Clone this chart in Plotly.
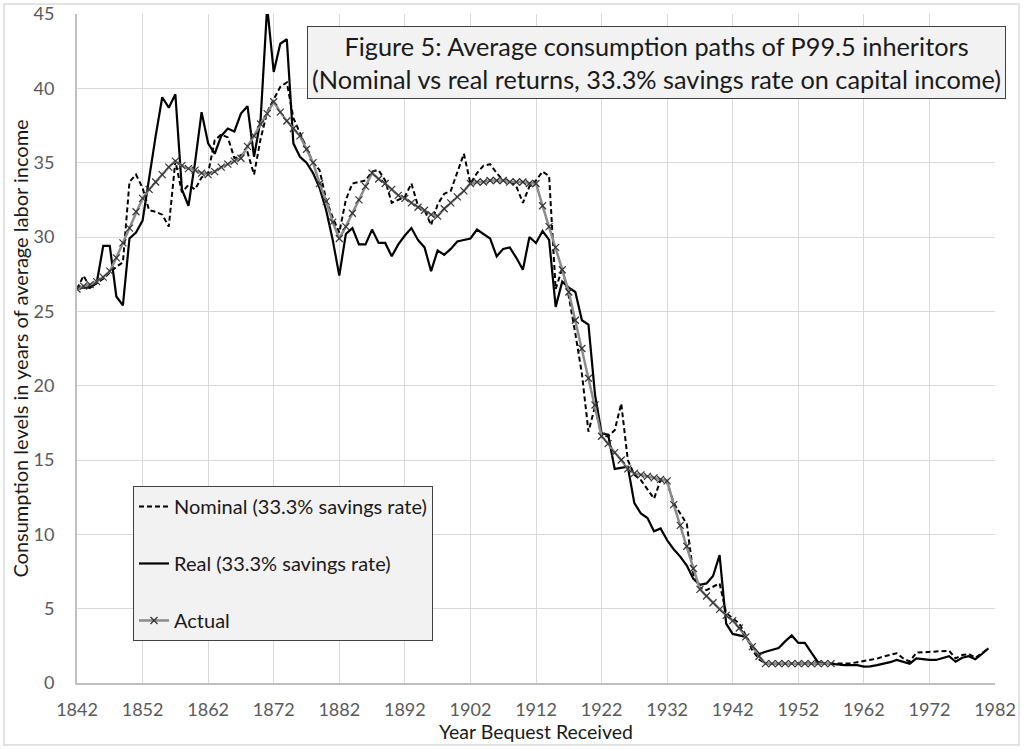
import plotly.graph_objects as go

years = list(range(1842, 1982))

nominal = [
    26.5, 27.4, 26.6, 26.9, 27.2, 27.6, 28.0, 28.3, 33.7, 34.2,   # 1842-1851
    33.3, 31.8, 31.7, 31.5, 30.7, 35.1, 33.0, 33.5, 33.2, 34.0,   # 1852-1861
    34.3, 36.5, 36.9, 36.7, 35.3, 35.5, 35.7, 34.2, 36.6, 38.4,   # 1862-1871
    39.3, 40.1, 40.4, 38.0, 37.0, 36.0, 35.0, 34.5, 32.5, 31.3,   # 1872-1881
    30.3, 32.5, 33.6, 33.7, 33.8, 34.4, 34.5, 33.8, 32.3, 32.5,   # 1882-1891
    32.7, 33.6, 32.1, 31.8, 30.8, 32.2, 32.9, 33.1, 34.3, 35.6,   # 1892-1901
    33.6, 34.3, 34.8, 34.9, 34.3, 33.8, 33.8, 33.4, 32.3, 33.4,   # 1902-1911
    33.8, 34.4, 34.1, 26.5, 27.9, 26.0, 23.5, 20.8, 16.9, 18.6,   # 1912-1921
    16.6, 16.6, 17.0, 18.8, 15.0, 14.0, 13.65, 13.0, 12.4, 13.65, # 1922-1931
    13.5, 12.1, 11.4, 10.7, 7.3, 6.4, 6.25, 6.5, 6.7, 4.7,        # 1932-1941
    4.35, 4.0, 3.2, 2.2, 1.6, 1.3, 1.3, 1.3, 1.3, 1.3,            # 1942-1951
    1.3, 1.3, 1.3, 1.3, 1.3, 1.3, 1.28, 1.3, 1.32, 1.4,           # 1952-1961
    1.48, 1.56, 1.64, 1.78, 1.9, 2.0, 1.66, 1.45, 2.04, 2.06,     # 1962-1971
    2.08, 2.1, 2.15, 2.17, 1.66, 1.88, 1.95, 1.7, 2.0, 2.33,      # 1972-1981
]

real = [
    26.5, 26.6, 26.6, 26.9, 29.4, 29.4, 26.0, 25.4, 29.9, 30.3,   # 1842-1851
    31.1, 34.0, 36.8, 39.4, 38.7, 39.6, 33.2, 32.1, 35.0, 38.4,   # 1852-1861
    36.3, 35.6, 36.8, 37.3, 37.1, 38.3, 38.8, 35.4, 37.9, 45.5,   # 1862-1871
    41.1, 43.0, 43.3, 36.3, 35.4, 35.0, 34.3, 33.3, 31.8, 29.8,   # 1872-1881
    27.4, 30.2, 30.6, 29.5, 29.5, 30.5, 29.6, 29.6, 28.7, 29.5,   # 1882-1891
    30.1, 30.6, 29.8, 29.3, 27.7, 29.1, 28.8, 29.2, 29.7, 29.8,   # 1892-1901
    29.9, 30.5, 30.2, 29.9, 28.7, 29.2, 29.3, 28.6, 27.8, 30.0,   # 1902-1911
    29.6, 30.4, 29.8, 25.3, 27.0, 26.6, 26.3, 24.4, 24.1, 19.4,   # 1912-1921
    16.8, 16.7, 14.4, 14.5, 14.55, 12.1, 11.4, 11.1, 10.2, 10.4,  # 1922-1931
    9.6, 9.0, 8.5, 7.9, 7.0, 6.6, 6.7, 7.2, 8.6, 4.0,             # 1932-1941
    3.3, 3.2, 3.1, 2.5, 1.95, 2.1, 2.2, 2.35, 2.8, 3.2,           # 1942-1951
    2.7, 2.7, 2.05, 1.4, 1.3, 1.3, 1.25, 1.2, 1.2, 1.2,           # 1952-1961
    1.1, 1.12, 1.2, 1.28, 1.4, 1.55, 1.45, 1.3, 1.66, 1.6,        # 1962-1971
    1.55, 1.55, 1.7, 1.8, 1.43, 1.7, 1.8, 1.6, 1.95, 2.33,        # 1972-1981
]

actual = [
    26.5, 26.7, 26.8, 27.0, 27.3, 27.7, 28.6, 29.6, 30.6, 31.7,   # 1842-1851
    32.6, 33.2, 33.7, 34.2, 34.7, 35.1, 34.8, 34.6, 34.5, 34.3,   # 1852-1861
    34.2, 34.4, 34.7, 34.9, 35.1, 35.3, 36.1, 36.8, 37.6, 38.3,   # 1862-1871
    39.1, 38.4, 37.8, 37.3, 36.8, 35.9, 35.0, 33.6, 32.4, 31.0,   # 1872-1881
    29.9, 30.7, 31.6, 32.5, 33.4, 34.3, 33.9, 33.6, 33.2, 32.8,   # 1882-1891
    32.6, 32.3, 32.0, 31.8, 31.5, 31.4, 31.9, 32.3, 32.7, 33.1,   # 1892-1901
    33.6, 33.7, 33.7, 33.8, 33.8, 33.8, 33.7, 33.7, 33.7, 33.6,   # 1902-1911
    33.6, 32.1, 30.7, 29.3, 27.8, 26.3, 24.4, 22.5, 20.5, 18.7,   # 1912-1921
    16.6, 16.1, 15.5, 15.0, 14.4, 14.1, 14.0, 13.9, 13.8, 13.7,   # 1922-1931
    13.6, 12.0, 10.6, 9.2, 7.7, 6.3, 5.85, 5.4, 4.95, 4.55,       # 1932-1941
    4.2, 3.7, 3.1, 2.45, 1.8, 1.3, 1.3, 1.3, 1.3, 1.3,            # 1942-1951
    1.3, 1.3, 1.3, 1.3, 1.3, 1.3,                                 # 1952-1957
] + [None] * 24                                                   # 1958-1981

x_ticks = list(range(1842, 1983, 10))
y_ticks = list(range(0, 46, 5))

FONT = "Lato, 'Open Sans', sans-serif"

W, H = 1024, 750
ML, MR, MT, MB = 77, 29, 14, 67
PW, PH = W - ML - MR, H - MT - MB

fig = go.Figure()
fig.add_trace(go.Scatter(
    x=years, y=nominal, mode="lines", name="Nominal (33.3% savings rate)",
    line=dict(color="#000000", width=2, dash="5px,3px"), legendgroup="a"))
fig.add_trace(go.Scatter(
    x=years, y=real, mode="lines", name="Real (33.3% savings rate)",
    line=dict(color="#000000", width=2.2), legendgroup="b"))
fig.add_trace(go.Scatter(
    x=years, y=actual, mode="lines+markers", name="Actual",
    line=dict(color="#8c8c8c", width=2.5),
    marker=dict(symbol="x-thin", size=7, color="#333333",
                line=dict(color="#333333", width=1.2)),
    legendgroup="c"))

fig.update_layout(
    width=W, height=H,
    margin=dict(l=ML, r=MR, t=MT, b=MB, autoexpand=False),
    paper_bgcolor="white", plot_bgcolor="white",
    font=dict(family=FONT, size=18, color="#1a1a1a"),
    showlegend=True,
    legend=dict(
        x=0.061, y=0.2945, xanchor="left", yanchor="top",
        bgcolor="#f2f2f2", bordercolor="#404040", borderwidth=1,
        font=dict(family=FONT, size=20, color="#1a1a1a"),
        traceorder="grouped", tracegroupgap=28,
    ),
    xaxis=dict(
        range=[1842, 1982], tickvals=x_ticks, ticktext=[str(v) for v in x_ticks],
        showgrid=True, gridcolor="#d9d9d9", gridwidth=1,
        showline=True, linecolor="#bfbfbf", linewidth=2,
        ticks="outside", ticklen=9, tickcolor="rgba(0,0,0,0)",
        tickfont=dict(family=FONT, size=18, color="#595959"),
        title=dict(text="Year Bequest Received", standoff=2,
                   font=dict(family=FONT, size=19.5, color="#1a1a1a")),
        zeroline=False, automargin=False,
    ),
    yaxis=dict(
        range=[0, 45], tickvals=y_ticks,
        showgrid=True, gridcolor="#d9d9d9", gridwidth=1,
        showline=True, linecolor="#bfbfbf", linewidth=2,
        ticks="outside", ticklen=17, tickcolor="rgba(0,0,0,0)",
        tickfont=dict(family=FONT, size=18, color="#595959"),
        title=dict(text="Consumption levels in years of average labor income", standoff=0,
                   font=dict(family=FONT, size=20, color="#1a1a1a")),
        zeroline=False, automargin=False,
    ),
    annotations=[dict(
        xref="paper", yref="paper", x=0.631, y=0.927,
        xanchor="center", yanchor="middle",
        text="Figure 5: Average consumption paths of P99.5 inheritors<br>(Nominal vs real returns, 33.3% savings rate on capital income)",
        showarrow=False, align="center",
        font=dict(family=FONT, size=25.3, color="#1a1a1a"),
        bgcolor="#f2f2f2", bordercolor="#404040", borderwidth=1, borderpad=4,
    )],
    shapes=[dict(
        type="rect", xref="paper", yref="paper",
        x0=(4 - ML) / PW, x1=(1019 - ML) / PW,
        y0=(MT + PH - 745) / PH, y1=(MT + PH - 4) / PH,
        line=dict(color="#d9d9d9", width=1.5), fillcolor="rgba(0,0,0,0)", layer="below",
    )],
)

fig.write_html(
    "out.html",
    config={"displayModeBar": False},
    post_script="document.body.style.margin='0';document.body.style.overflow='hidden';",
)
